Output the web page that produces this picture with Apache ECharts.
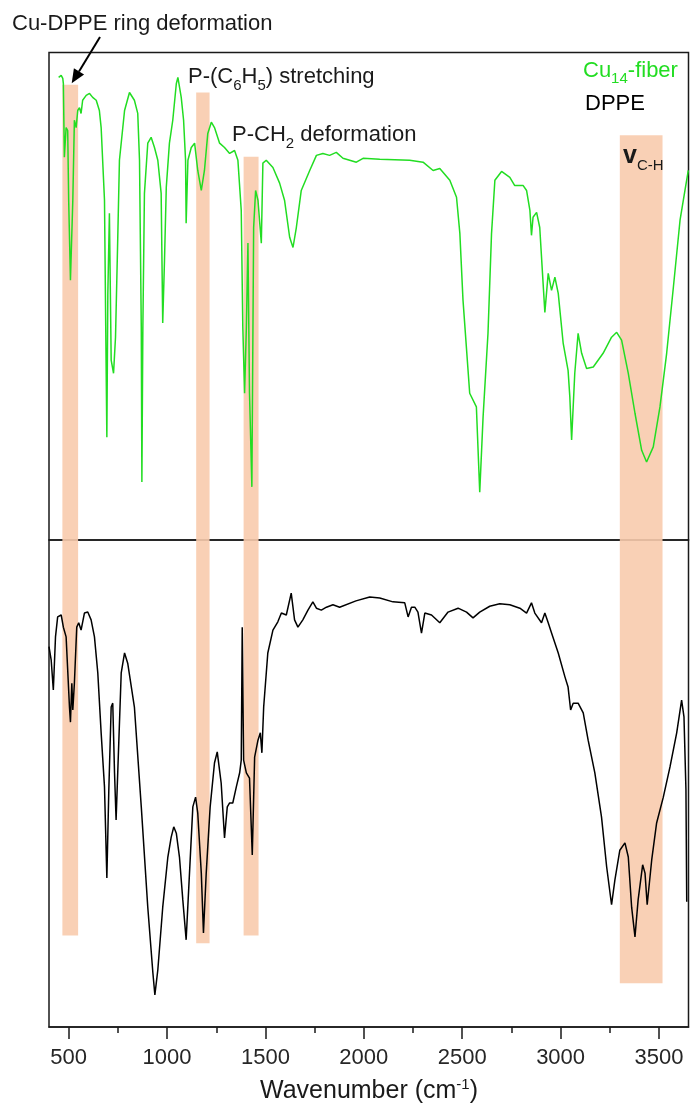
<!DOCTYPE html>
<html><head><meta charset="utf-8">
<script src="https://cdn.jsdelivr.net/npm/echarts@6/dist/echarts.min.js"></script>
<style>html,body{margin:0;padding:0;background:#fff}#c{width:691px;height:1115px}</style>
</head><body><div id="c"></div>
<script>
// ---- Data (arbitrary transmittance units, 0-100 per panel) ----
const fiberWavenumber = [449,462,470,473,478,487,495,500,509,521,529,538,546,555,563,571,589,606,622,640,656,665,682,690,694,699,707,716,728,738,748,758,784,809,834,851,860,869,872,877,885,902,919,936,953,970,978,987,996,1012,1029,1047,1055,1072,1084,1094,1097,1106,1123,1140,1156,1174,1190,1207,1225,1241,1267,1292,1318,1343,1360,1377,1385,1394,1403,1411,1419,1431,1440,1450,1462,1470,1479,1487,1504,1538,1572,1597,1623,1640,1657,1682,1725,1759,1792,1826,1860,1894,1962,1996,2081,2233,2301,2352,2386,2437,2471,2488,2504,2538,2572,2589,2606,2631,2649,2666,2700,2742,2767,2810,2827,2844,2852,2860,2878,2894,2911,2920,2937,2954,2971,2988,3013,3038,3047,3056,3072,3089,3107,3132,3166,3216,3259,3285,3310,3344,3378,3412,3437,3471,3505,3539,3573,3607,3632,3649];
const fiberSignal = [94.9,95.3,94.7,93.6,78.5,84.6,84.0,69.7,53.3,69.7,86.1,84.6,88.1,88.7,87.5,90.2,91.2,91.6,90.8,90.2,88.1,84.6,69.7,36.9,21.1,50.6,67.0,36.9,34.2,41.6,59.4,77.9,88.1,91.8,90.2,87.5,77.9,43.6,11.9,43.6,71.1,81.4,82.6,80.5,77.9,71.1,44.5,57.4,72.3,81.4,86.1,93.6,94.9,90.8,86.1,77.9,65.0,77.9,80.5,81.4,75.8,71.7,75.8,83.4,85.7,84.6,81.4,80.5,79.3,79.9,77.9,67.6,43.6,30.1,43.6,60.9,30.1,10.9,64.1,71.7,69.7,69.7,60.9,77.3,77.9,76.4,73.2,69.7,62.1,60.0,64.1,71.7,75.8,78.9,79.3,78.9,79.5,78.3,77.5,78.3,78.1,77.9,77.5,75.8,76.2,73.8,70.3,62.9,49.2,30.1,27.3,9.8,25.2,42.4,62.9,73.8,75.6,74.4,72.7,72.7,71.7,67.6,62.5,66.2,67.2,64.1,52.7,46.7,54.7,51.2,53.9,50.6,40.4,34.8,29.3,20.5,34.2,42.4,38.3,35.2,35.5,38.3,41.6,42.6,41.0,34.2,26.0,18.4,16.0,19.1,27.3,38.3,51.8,65.6,71.7,75.8];

const dppeWavenumber = [400,411,422,433,444,462,473,487,495,504,509,516,521,529,541,551,563,580,597,614,631,648,665,682,694,704,716,724,733,741,755,767,784,800,834,869,902,928,938,953,978,1004,1021,1034,1047,1063,1080,1097,1114,1131,1145,1156,1174,1185,1199,1219,1241,1255,1275,1292,1306,1318,1334,1352,1369,1377,1382,1389,1403,1419,1433,1445,1462,1474,1482,1491,1512,1538,1563,1581,1606,1631,1648,1665,1690,1716,1741,1759,1784,1810,1843,1877,1960,2030,2081,2148,2208,2225,2242,2259,2275,2293,2310,2344,2386,2428,2479,2522,2555,2589,2640,2691,2742,2793,2827,2852,2869,2903,2920,2937,2954,2988,3022,3038,3051,3064,3089,3115,3140,3174,3208,3234,3259,3276,3301,3327,3344,3361,3378,3394,3417,3429,3440,3463,3488,3522,3556,3590,3615,3627,3637,3641];
const dppeSignal = [78.1,75.4,69.2,80.1,84.2,84.6,82.1,80.1,80.1,65.7,62.6,70.6,65.1,70.6,82.1,83.0,81.5,85.0,85.2,83.6,80.1,72.7,60.4,49.3,30.6,48.7,65.7,66.5,52.2,42.5,58.9,72.7,76.8,74.7,65.7,45.2,24.6,11.1,6.6,11.7,24.6,34.9,39.0,41.1,39.8,34.9,26.1,17.9,31.6,45.2,47.2,43.9,31.6,19.3,31.6,45.2,54.2,56.5,50.1,38.8,45.2,46.0,46.0,49.3,52.2,54.8,82.1,54.8,52.2,51.1,35.3,55.4,58.9,60.4,56.3,65.7,76.8,81.5,83.2,85.0,84.6,89.1,83.6,82.1,83.6,85.6,87.3,86.0,85.6,86.2,86.7,86.2,87.5,88.3,88.1,87.3,87.1,84.2,86.2,86.2,85.2,80.9,85.0,84.6,83.0,85.2,86.0,85.2,84.0,85.2,86.4,86.9,86.7,86.0,85.0,87.1,85.0,83.0,85.0,83.0,80.9,76.8,71.9,69.8,65.1,66.5,66.5,64.5,58.9,52.2,43.1,32.9,25.1,30.2,36.3,37.8,34.9,24.6,18.5,26.1,33.3,31.6,25.1,34.3,41.9,47.2,53.4,60.4,67.1,63.7,48.7,25.7];

// highlighted bands (wavenumber range, vertical extent in % of the two-panel height)
const bandStart  = [468, 1148, 1389, 3301];
const bandEnd    = [548, 1216, 1465, 3518];
const bandTop    = [96.7, 95.9, 89.3, 91.5];
const bandBottom = [9.4, 8.6, 9.4, 4.5];

const tickLabels = [500, 1000, 1500, 2000, 2500, 3000, 3500];
const minorTicks = [750, 1250, 1750, 2250, 2750, 3250];

// ---- Chart ----
const FONT = '"Liberation Sans", Arial, Helvetica, sans-serif';
const chart = echarts.init(document.getElementById('c'), null, {renderer: 'canvas'});
const zip = (xs, ys) => xs.map((x, i) => [x, ys[i]]);
const bands = bandStart.map((s, i) => [s, bandEnd[i], bandTop[i], bandBottom[i]]);

function renderBand(params, api) {
  const p1 = api.coord([api.value(0), api.value(2)]);
  const p2 = api.coord([api.value(1), api.value(3)]);
  return {
    type: 'rect',
    shape: {x: p1[0], y: p1[1], width: p2[0] - p1[0], height: p2[1] - p1[1]},
    style: {fill: '#F8CBAD', opacity: 0.9}
  };
}

const GREEN = '#22dd22';
const INK = '#1a1a1a';

// text runs with sub/superscripts, placed on a common baseline
const measureCtx = document.createElement('canvas').getContext('2d');
function textRuns(x, baseline, parts, align) {
  const widths = parts.map(p => {
    measureCtx.font = (p.weight || 'normal') + ' ' + p.size + 'px ' + FONT;
    return measureCtx.measureText(p.text).width;
  });
  const total = widths.reduce((a, b) => a + b, 0);
  let cx = align === 'center' ? x - total / 2 : (align === 'right' ? x - total : x);
  return parts.map((p, i) => {
    const el = {
      type: 'text', x: cx, y: baseline + (p.shift || 0) - 0.3465 * p.size, z: 100, silent: true,
      style: {text: p.text, fontSize: p.size, fontWeight: p.weight || 'normal', fontFamily: FONT,
        fill: p.color || INK, align: 'left', verticalAlign: 'middle'}
    };
    cx += widths[i];
    return el;
  });
}

const graphics = [].concat(
  textRuns(12, 31.7, [{text: 'Cu-DPPE ring deformation', size: 22}]),
  textRuns(188, 85, [{text: 'P-(C', size: 22}, {text: '6', size: 15, shift: 6}, {text: 'H', size: 22},
                     {text: '5', size: 15, shift: 6}, {text: ') stretching', size: 22}]),
  textRuns(232, 143, [{text: 'P-CH', size: 22}, {text: '2', size: 15, shift: 6}, {text: ' deformation', size: 22}]),
  textRuns(583, 78.3, [{text: 'Cu', size: 22, color: GREEN}, {text: '14', size: 15, shift: 6, color: GREEN},
                       {text: '-fiber', size: 22, color: GREEN}]),
  textRuns(585, 111.7, [{text: 'DPPE', size: 22, color: '#000'}]),
  textRuns(623, 165, [{text: 'v', size: 25, weight: 'bold'}, {text: 'C-H', size: 15, shift: 6.5}]),
  textRuns(369, 1100, [{text: 'Wavenumber (cm', size: 25}, {text: '-1', size: 15, shift: -10}, {text: ')', size: 25}], 'center'),
  [
    {type: 'line', z: 100, shape: {x1: 100, y1: 37, x2: 79, y2: 71.4}, style: {stroke: '#000', lineWidth: 2}},
    {type: 'polygon', z: 100, shape: {points: [[71.7, 83.3], [84.1, 74.5], [73.9, 68.3]]}, style: {fill: '#000'}}
  ]
);

const option = {
  animation: false,
  backgroundColor: '#ffffff',
  grid: [
    {left: 49, right: 2.5, top: 52.5, height: 487.5, show: true, borderColor: INK, borderWidth: 1.5, backgroundColor: 'transparent'},
    {left: 49, right: 2.5, top: 540, height: 487, show: true, borderColor: INK, borderWidth: 1.5, backgroundColor: 'transparent'},
    {left: 49, right: 2.5, top: 52.5, height: 974.5}
  ],
  xAxis: [
    {gridIndex: 0, type: 'value', min: 400, max: 3650, show: false},
    {gridIndex: 1, type: 'value', min: 400, max: 3650, position: 'bottom',
      axisLine: {show: true, lineStyle: {color: INK, width: 1.5}},
      axisTick: {show: true, customValues: tickLabels, length: 12, inside: false, lineStyle: {color: INK, width: 1.5}},
      axisLabel: {show: true, customValues: tickLabels, margin: 20, fontSize: 22, color: '#262626', fontFamily: FONT,
        formatter: v => String(v)},
      splitLine: {show: false}},
    {gridIndex: 1, type: 'value', min: 400, max: 3650, position: 'bottom',
      axisLine: {show: false},
      axisTick: {show: true, customValues: minorTicks, length: 6, inside: false, lineStyle: {color: INK, width: 1.5}},
      axisLabel: {show: false}, splitLine: {show: false}},
    {gridIndex: 2, type: 'value', min: 400, max: 3650, show: false}
  ],
  yAxis: [
    {gridIndex: 0, type: 'value', min: 0, max: 100, show: false},
    {gridIndex: 1, type: 'value', min: 0, max: 100, show: false},
    {gridIndex: 2, type: 'value', min: 0, max: 100, show: false}
  ],
  series: [
    {type: 'custom', xAxisIndex: 3, yAxisIndex: 2, z: 1, silent: true,
      encode: {x: [0, 1], y: [2, 3]}, data: bands, renderItem: renderBand},
    {type: 'line', name: 'Cu14-fiber', xAxisIndex: 0, yAxisIndex: 0, z: 3,
      data: zip(fiberWavenumber, fiberSignal), showSymbol: false, symbol: 'none',
      lineStyle: {color: GREEN, width: 1.5}, itemStyle: {color: GREEN}},
    {type: 'line', name: 'DPPE', xAxisIndex: 1, yAxisIndex: 1, z: 3,
      data: zip(dppeWavenumber, dppeSignal), showSymbol: false, symbol: 'none',
      lineStyle: {color: '#000000', width: 1.5}, itemStyle: {color: '#000'}}
  ],
  graphic: graphics
};
chart.setOption(option);
</script>
</body></html>
